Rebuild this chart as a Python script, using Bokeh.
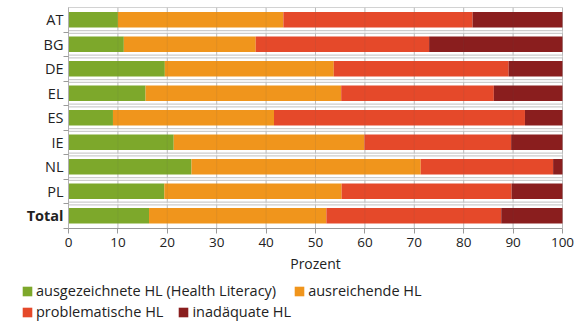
from bokeh.plotting import figure
from bokeh.models import (ColumnDataSource, Range1d, FixedTicker, Legend,
                          LegendItem)
from bokeh.core.properties import value
from bokeh.embed import file_html
from bokeh.resources import INLINE

# Health literacy levels per country (percent of respondents)
countries = ["AT", "BG", "DE", "EL", "ES", "IE", "NL", "PL", "Total"]
excellent = [10.0, 11.2, 19.5, 15.6, 9.0, 21.3, 24.9, 19.4, 16.3]
sufficient = [33.5, 26.7, 34.2, 39.6, 32.6, 38.6, 46.4, 35.9, 35.9]
problematic = [38.3, 35.1, 35.4, 30.9, 50.8, 29.7, 26.8, 34.4, 35.4]
inadequate = [18.2, 27.0, 10.9, 13.9, 7.6, 10.4, 1.9, 10.3, 12.4]

series_labels = ["ausgezeichnete HL (Health Literacy)", "ausreichende HL",
                 "problematische HL", "inadäquate HL"]
x_ticks = [0, 10, 20, 30, 40, 50, 60, 70, 80, 90, 100]

colors = ["#7DA82B", "#F0951C", "#E5492A", "#8A1E1E"]
FONT = "Open Sans"
TEXT = "#222222"

W, H = 586, 321
# bar area inside the canvas (pixels): left, right, top, bottom
AREA_L, AREA_R, AREA_T, AREA_B = 68, 562, 7, 227.5

n = len(countries)
pos = list(range(n))
y_top, y_bot = -0.5, n - 0.5
x_lo, x_hi = 0, 100

# the frame fills the whole canvas; ranges are padded so that the bar
# area lands where the axes are drawn
sx = (AREA_R - AREA_L) / (x_hi - x_lo)
sy = (AREA_B - AREA_T) / (y_bot - y_top)
x_range = Range1d(x_lo - AREA_L / sx, x_hi + (W - AREA_R) / sx)
y_range = Range1d(y_bot + (H - AREA_B) / sy, y_top - AREA_T / sy)

source = ColumnDataSource(dict(
    pos=pos, country=countries,
    excellent=excellent, sufficient=sufficient,
    problematic=problematic, inadequate=inadequate,
    style=["bold" if c == "Total" else "normal" for c in countries],
))

p = figure(width=W, height=H, output_backend="svg", toolbar_location=None,
           x_range=x_range, y_range=y_range,
           min_border=0, min_border_left=0, min_border_right=0,
           min_border_top=0, min_border_bottom=0)
p.outline_line_color = None
p.background_fill_color = "white"
p.border_fill_color = "white"
p.xgrid.visible = False
p.ygrid.visible = False

# vertical grid lines over the bar area
p.segment(x0=x_ticks, x1=x_ticks, y0=y_top, y1=y_bot,
          line_color="#c8c8c8", line_width=1)

# row separators (gray / white / gray)
bounds = [i + 0.5 for i in pos[:-1]]
p.segment(x0=x_lo, x1=x_hi, y0=bounds, y1=bounds,
          line_color="#cdcdcd", line_width=4)
p.segment(x0=x_lo, x1=x_hi, y0=bounds, y1=bounds,
          line_color="white", line_width=1.5)
p.segment(x0=x_lo, x1=x_hi, y0=y_top, y1=y_top,
          line_color="#d2d2d2", line_width=1)

stackers = ["excellent", "sufficient", "problematic", "inadequate"]
bars = p.hbar_stack(stackers=stackers, y="pos", height=0.64, color=colors,
                    line_color=None, source=source)

# faint grid lines across the bars
p.segment(x0=x_ticks, x1=x_ticks, y0=y_top, y1=y_bot,
          line_color="#555555", line_alpha=0.10, line_width=1)

# category names left of the bars
p.text(x=x_lo, y="pos", text="country", source=source,
       x_offset=-5, text_align="right", text_baseline="middle",
       text_font=value(FONT), text_font_size="14.5px",
       text_font_style="style", text_color=TEXT)

# x axis pinned to the bottom of the bar area
xa = p.xaxis[0]
xa.fixed_location = y_bot
xa.bounds = (x_lo, x_hi)
xa.ticker = FixedTicker(ticks=x_ticks)
xa.axis_label = "Prozent"
xa.axis_label_text_font = FONT
xa.axis_label_text_font_size = "14px"
xa.axis_label_text_font_style = "normal"
xa.axis_label_text_color = TEXT
xa.axis_label_standoff = 3
xa.major_label_text_font = FONT
xa.major_label_text_font_size = "13.5px"
xa.major_label_text_color = TEXT
xa.major_label_standoff = 5
xa.major_tick_out = 5
xa.major_tick_in = 0
xa.minor_tick_out = 0
xa.minor_tick_in = 0
xa.axis_line_color = "#9a9a9a"
xa.major_tick_line_color = "#9a9a9a"

# y axis pinned to x = 0, with small ticks at the row boundaries
ya = p.yaxis[0]
ya.fixed_location = x_lo
ya.bounds = (y_top, y_bot)
ya.ticker = FixedTicker(ticks=[], minor_ticks=[i + 0.5 for i in pos])
ya.major_tick_out = 0
ya.major_tick_in = 0
ya.minor_tick_out = 5
ya.minor_tick_in = 0
ya.axis_line_color = "#b0b0b0"
ya.minor_tick_line_color = "#9a9a9a"


def make_legend(items, loc, spacing):
    return Legend(items=items, location=loc, orientation="horizontal",
                  glyph_width=12, glyph_height=12, label_height=12,
                  label_standoff=3, spacing=spacing, padding=0, margin=0,
                  border_line_color=None, background_fill_alpha=0,
                  label_text_font=FONT, label_text_font_size="14.5px",
                  label_text_color=TEXT)


row1 = [LegendItem(label=series_labels[0], renderers=[bars[0]]),
        LegendItem(label=series_labels[1], renderers=[bars[1]])]
row2 = [LegendItem(label=series_labels[2], renderers=[bars[2]]),
        LegendItem(label=series_labels[3], renderers=[bars[3]])]
p.add_layout(make_legend(row1, (21, 21), 17))
p.add_layout(make_legend(row2, (21, 0), 14))

open("out.html", "w").write(file_html(p, INLINE))
